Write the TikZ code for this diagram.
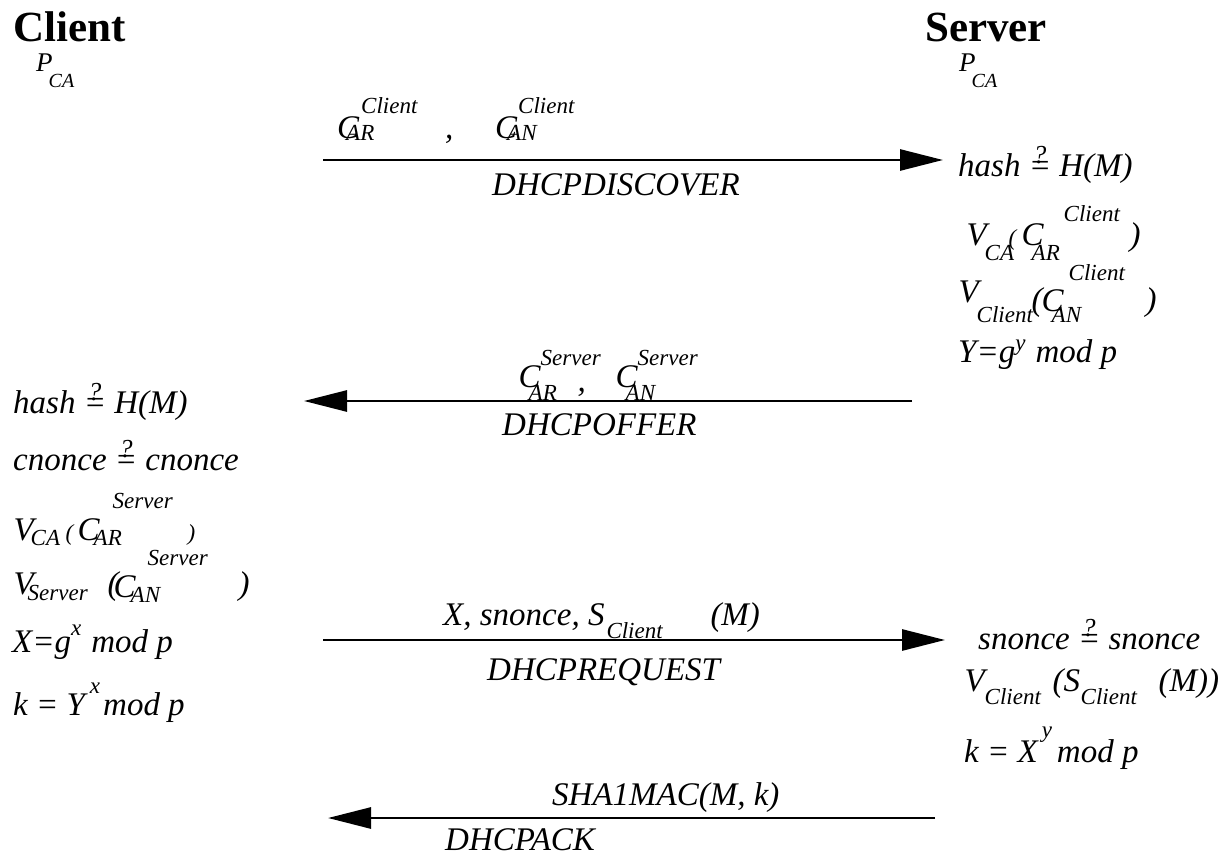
\documentclass[tikz,border=0pt]{standalone}
\usepackage{fontspec}
\setmainfont{Liberation Serif}
\usetikzlibrary{arrows.meta}
\newcommand{\sm}[1]{{\fontsize{23}{23}\selectfont #1}}
\newcommand{\pc}[3]{\rlap{\hspace*{#1pt}\raisebox{#2pt}{#3}}}
\newcommand{\qeq}{\ooalign{\hfil=\hfil\cr\hfil\raisebox{13pt}{\fontsize{26}{26}\selectfont ?}\hfil\cr}}
\tikzset{
  lbl/.style={inner sep=0pt, anchor=base west, font=\fontsize{33}{38}\selectfont\itshape},
  hdr/.style={inner sep=0pt, anchor=base west, font=\fontsize{43}{50}\selectfont\bfseries},
  pca/.style={inner sep=0pt, anchor=base west, font=\fontsize{27}{32}\selectfont\itshape},
  msg/.style={line width=2.8pt, -{Triangle[length=43pt,width=21pt]}}
}
\begin{document}
\begin{tikzpicture}[x=1pt,y=-1pt]
\useasboundingbox (0,0) rectangle (1230,858);
% headers
\node[hdr] (client) at (13,42) {Client};
\node[hdr] (server) at (925,42) {Server};
\node[pca] (pcal) at (36,72) {P\pc{-4}{-16}{{\fontsize{20}{20}\selectfont CA}}};
\node[pca] (pcar) at (959,72) {P\pc{-4}{-16}{{\fontsize{20}{20}\selectfont CA}}};
% message 1
\coordinate (a1s) at (323,160);
\coordinate (a1e) at (943,160);
\draw[msg] (a1s) -- (a1e);
\node[lbl] (disc) at (337,139) {C\pc{-13}{-2}{\sm{AR}}\pc{2}{25}{\sm{Client}}\pc{86}{0}{,}\pc{136}{0}{C\pc{-10}{-2}{\sm{AN}}\pc{1}{25}{\sm{Client}}}};
\node[lbl] (discn) at (492,196) {DHCPDISCOVER};
% server checks 1
\node[lbl] (rh) at (958,177) {hash \qeq\ H(M)};
\node[lbl] (rv1) at (966,246) {\pc{0}{0}{V}\pc{18}{-15}{\sm{CA}}\pc{42}{0}{\sm{(}}\pc{55}{0}{C}\pc{65}{-15}{\sm{AR}}\pc{97}{24}{\sm{Client}}\pc{163}{0}{)}};
\node[lbl] (rv2) at (958,302) {\pc{0}{0}{V}\pc{18}{-20}{\sm{Client}}\pc{73}{-8}{(}\pc{83}{-9}{C}\pc{93}{-20}{\sm{AN}}\pc{110}{22}{\sm{Client}}\pc{187}{-8}{)}};
\node[lbl] (ry) at (958,362) {Y=g\raisebox{12pt}{\sm{y}}\kern10pt mod p};
% message 2
\coordinate (a2s) at (912,401);
\coordinate (a2e) at (304,401);
\draw[msg] (a2s) -- (a2e);
\node[lbl] (offl) at (518,387) {\pc{0}{0}{C}\pc{10}{-13}{\sm{AR}}\pc{22}{22}{\sm{Server}}\pc{59}{-4}{,}\pc{97}{0}{C}\pc{107}{-13}{\sm{AN}}\pc{119}{22}{\sm{Server}}};
\node[lbl] (offn) at (502,435) {DHCPOFFER};
% client checks
\node[lbl] (lh) at (13,413) {hash \qeq\ H(M)};
\node[lbl] (lc) at (13,470) {cnonce \qeq\ cnonce};
\node[lbl] (lv1) at (13,540) {\pc{0}{0}{V}\pc{17}{-5}{\sm{CA}}\pc{52}{0}{\sm{(}}\pc{64}{0}{C}\pc{80}{-5}{\sm{AR}}\pc{99}{32}{\sm{Server}}\pc{174}{0}{\sm{)}}};
\node[lbl] (lv2) at (13,594) {\pc{0}{0}{V}\pc{14}{-6}{\sm{Server}}\pc{94}{0}{(}\pc{100}{-3}{C}\pc{117}{-8}{\sm{AN}}\pc{134}{29}{\sm{Server}}\pc{225}{0}{)}};
\node[lbl] (lx) at (12,652) {X=g\raisebox{17pt}{\sm{x}}\kern10pt mod p};
\node[lbl] (lk) at (13,715) {k = Y\kern5pt\raisebox{22pt}{\sm{x}}\kern3pt mod p};
% message 3
\coordinate (a3s) at (323,640);
\coordinate (a3e) at (945,640);
\draw[msg] (a3s) -- (a3e);
\node[lbl] (rql) at (443,625) {X, snonce, S\pc{2}{-13}{\sm{Client}}\pc{106}{0}{(M)}};
\node[lbl] (rqn) at (487,680) {DHCPREQUEST};
% server checks 2
\node[lbl] (rs) at (978,649) {snonce \qeq\ snonce};
\node[lbl] (rv3) at (964,691) {\pc{0}{0}{V}\pc{20}{-13}{\sm{Client}}\pc{88}{0}{(}\pc{99}{0}{S}\pc{116}{-13}{\sm{Client}}\pc{194}{0}{(M))}};
\node[lbl] (rk) at (964,762) {k = X\kern4pt\raisebox{25pt}{\sm{y}}\kern5pt mod p};
% message 4
\coordinate (a4s) at (935,818);
\coordinate (a4e) at (328,818);
\draw[msg] (a4s) -- (a4e);
\node[lbl] (ackl) at (552,805) {SHA1MAC(M, k)};
\node[lbl] (ackn) at (445,850) {DHCPACK};
\end{tikzpicture}
\end{document}
